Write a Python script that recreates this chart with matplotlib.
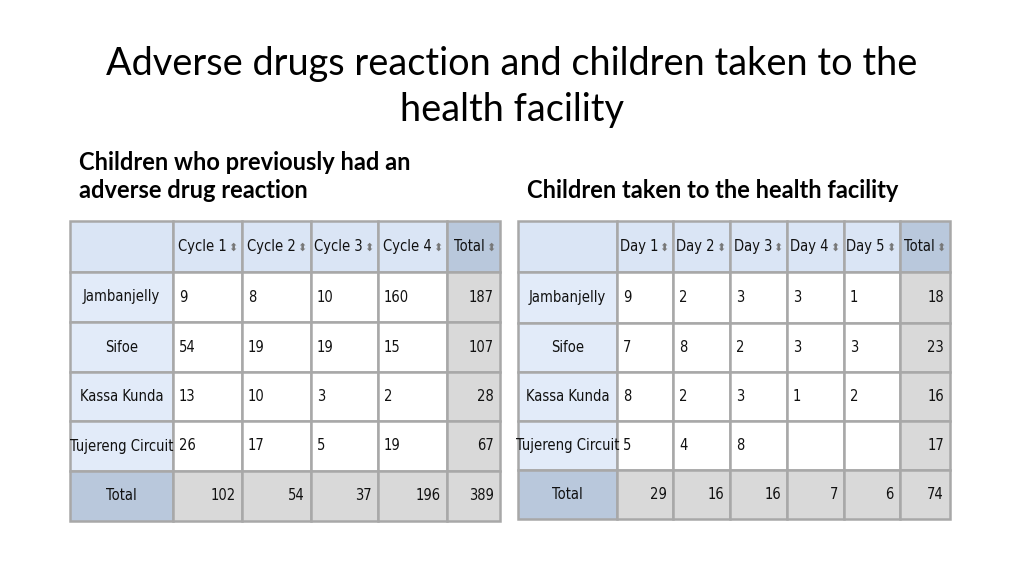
import matplotlib.pyplot as plt
from matplotlib.patches import Rectangle
from matplotlib import font_manager

# data
sites = ["Jambanjelly", "Sifoe", "Kassa Kunda", "Tujereng Circuit"]

cycles = ["Cycle 1", "Cycle 2", "Cycle 3", "Cycle 4"]
adr_values = [
    [9, 8, 10, 160],
    [54, 19, 19, 15],
    [13, 10, 3, 2],
    [26, 17, 5, 19],
]
adr_row_totals = [187, 107, 28, 67]
adr_col_totals = [102, 54, 37, 196]
adr_grand_total = 389

days = ["Day 1", "Day 2", "Day 3", "Day 4", "Day 5"]
hf_values = [
    [9, 2, 3, 3, 1],
    [7, 8, 2, 3, 3],
    [8, 2, 3, 1, 2],
    [5, 4, 8, None, None],
]
hf_row_totals = [18, 23, 16, 17]
hf_col_totals = [29, 16, 16, 7, 6]
hf_grand_total = 74

HEAD_BG = "#dae5f5"
LABEL_BG = "#e2ebf9"
HEAD_TOTAL_BG = "#b9c8dc"
TOTAL_BG = "#d9d9d9"
LINE = "#a8a8a8"

# the cells use a narrow font; pick one that is installed
installed = {(f.name, f.stretch) for f in font_manager.fontManager.ttflist}
names = {n for n, s in installed}
CELL_STRETCH = "normal"
if "Liberation Sans Narrow" in names:
    CELL_FONT, CELL_SIZE = "Liberation Sans Narrow", 12.5
elif any(n == "DejaVu Sans" and s in ("condensed", 75, "semi-condensed") for n, s in installed):
    CELL_FONT, CELL_SIZE, CELL_STRETCH = "DejaVu Sans", 10.5, "condensed"
elif "Roboto Condensed" in names:
    CELL_FONT, CELL_SIZE = "Roboto Condensed", 12
else:
    CELL_FONT, CELL_SIZE = "Liberation Sans", 10.5

fig = plt.figure(figsize=(10.24, 5.76), dpi=100)
ax = fig.add_axes([0, 0, 1, 1])
ax.set_xlim(0, 1024)
ax.set_ylim(576, 0)
ax.axis("off")


def cell(x0, x1, y0, y1, color):
    ax.add_patch(Rectangle((x0, y0), x1 - x0, y1 - y0, facecolor=color,
                           edgecolor=LINE, linewidth=1.8))


def txt(x, y, s, ha):
    ax.text(x, y, s, ha=ha, va="center", fontsize=CELL_SIZE, family=CELL_FONT,
            fontstretch=CELL_STRETCH, color="#111111")


def draw_table(xs, ys, headers, values, row_totals, col_totals, grand):
    n = len(headers)
    yc = (ys[0] + ys[1]) / 2
    cell(xs[0], xs[1], ys[0], ys[1], HEAD_BG)
    for j, h in enumerate(headers + ["Total"]):
        cell(xs[j + 1], xs[j + 2], ys[0], ys[1], HEAD_TOTAL_BG if j == n else HEAD_BG)
        txt(xs[j + 2] - 15, yc, h, "right")
        ax.text(xs[j + 2] - 5, yc + 1, "\u2b0d", ha="right", va="center",
                fontsize=8, color="#777777")

    for i, site in enumerate(sites):
        y0, y1 = ys[i + 1], ys[i + 2]
        yc = (y0 + y1) / 2
        cell(xs[0], xs[1], y0, y1, LABEL_BG)
        txt((xs[0] + xs[1]) / 2, yc, site, "center")
        for j, v in enumerate(values[i]):
            cell(xs[j + 1], xs[j + 2], y0, y1, "white")
            if v is not None:
                txt(xs[j + 1] + 6, yc, str(v), "left")
        cell(xs[n + 1], xs[n + 2], y0, y1, TOTAL_BG)
        txt(xs[n + 2] - 6, yc, str(row_totals[i]), "right")

    y0, y1 = ys[-2], ys[-1]
    yc = (y0 + y1) / 2
    cell(xs[0], xs[1], y0, y1, HEAD_TOTAL_BG)
    txt((xs[0] + xs[1]) / 2, yc, "Total", "center")
    for j, v in enumerate(col_totals + [grand]):
        cell(xs[j + 1], xs[j + 2], y0, y1, TOTAL_BG)
        txt(xs[j + 2] - 6, yc, str(v), "right")


left_xs = [70, 173, 242, 311, 378, 447, 500]
left_ys = [221, 272, 322, 372, 421, 471, 521]
right_xs = [518, 617, 673, 730, 787, 844, 900, 950]
right_ys = [221, 272, 323, 372, 421, 470, 519]

draw_table(left_xs, left_ys, cycles, adr_values, adr_row_totals,
           adr_col_totals, adr_grand_total)
draw_table(right_xs, right_ys, days, hf_values, hf_row_totals,
           hf_col_totals, hf_grand_total)

# titles
ax.text(512, 64, "Adverse drugs reaction and children taken to the", ha="center",
        va="center", fontsize=27.3, family="Lato", color="black")
ax.text(512, 110, "health facility", ha="center", va="center", fontsize=27.3,
        family="Lato", color="black")
ax.text(79, 163, "Children who previously had an", ha="left", va="center",
        fontsize=17, family="Lato", fontweight="bold")
ax.text(79, 191, "adverse drug reaction", ha="left", va="center",
        fontsize=17, family="Lato", fontweight="bold")
ax.text(527, 191, "Children taken to the health facility", ha="left", va="center",
        fontsize=17, family="Lato", fontweight="bold")

fig.savefig("out.png", dpi=100)
